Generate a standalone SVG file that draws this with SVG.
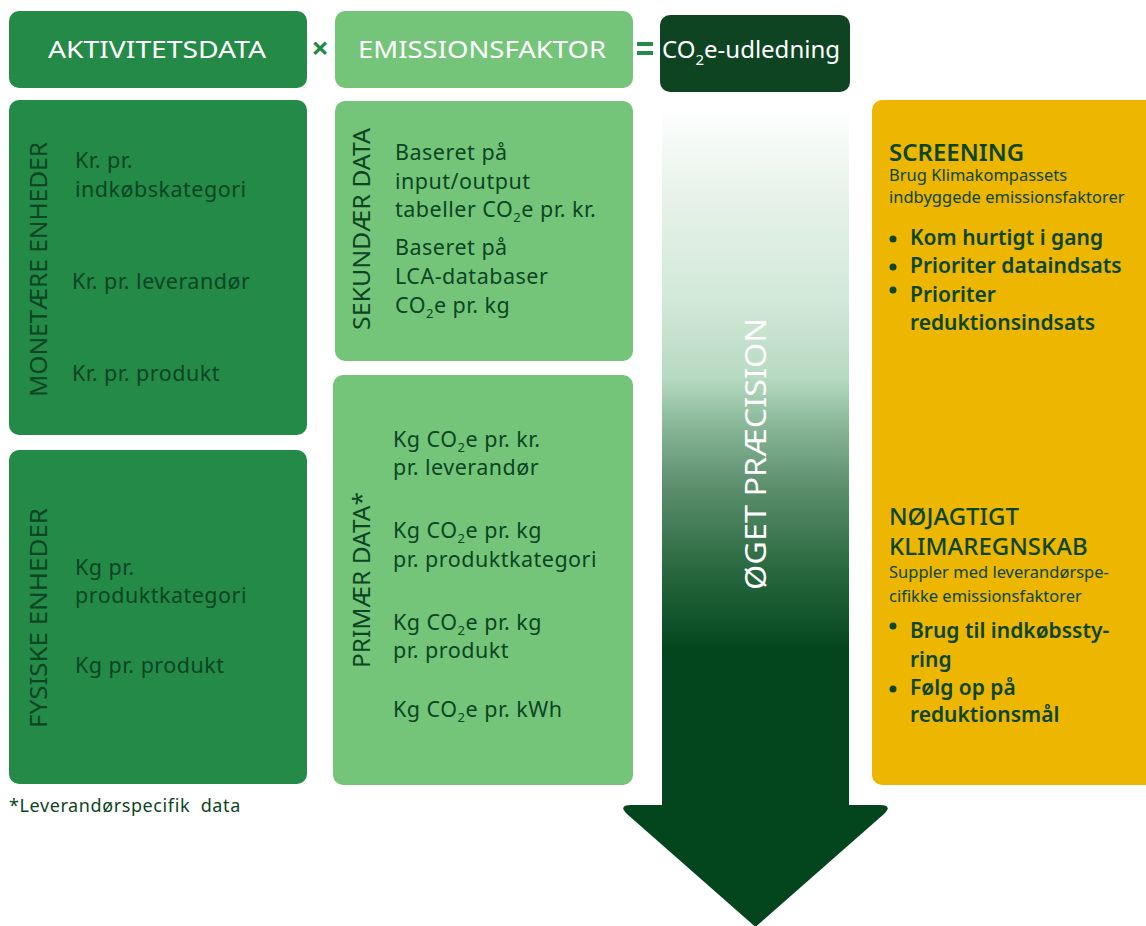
<svg xmlns="http://www.w3.org/2000/svg" width="1146" height="926" viewBox="0 0 1146 926">
  <defs>
    <linearGradient id="prec" gradientUnits="userSpaceOnUse" x1="0" y1="105" x2="0" y2="650">
      <stop offset="0" stop-color="#FFFFFF"/>
      <stop offset="0.17" stop-color="#E7F2EA"/>
      <stop offset="0.36" stop-color="#D2E8D8"/>
      <stop offset="0.50" stop-color="#B7DAC2"/>
      <stop offset="0.58" stop-color="#8CBA9B"/>
      <stop offset="0.70" stop-color="#5C8F6D"/>
      <stop offset="0.85" stop-color="#2A6940"/>
      <stop offset="1" stop-color="#03461E"/>
    </linearGradient>
    <style>
      text { font-family: "Noto Sans", "Liberation Sans", sans-serif; }
      .hdr { fill: #FFFFFF; font-size: 24px; text-anchor: middle; }
      .dk { fill: #0B4523; }
      .body { font-size: 21.5px; font-weight: 400; letter-spacing: 0.5px; }
      .vert { font-size: 23px; text-anchor: middle; }
      .ttl { font-size: 24px; }
      .sub { font-size: 16.5px; }
      .bul { font-size: 21px; font-weight: 600; }
      .op { fill: #248A47; font-weight: 700; text-anchor: middle; }
    </style>
  </defs>

  <!-- header row -->
  <g id="aktivitetsdata">
    <rect x="9" y="11" width="298" height="77" rx="10" fill="#248A47"/>
    <text class="hdr" x="157" y="58" textLength="218" lengthAdjust="spacingAndGlyphs">AKTIVITETSDATA</text>
  </g>
  <g id="times">
    <text class="op" x="320" y="59" font-size="31">×</text>
  </g>
  <g id="emissionsfaktor">
    <rect x="335" y="11" width="298" height="77" rx="10" fill="#74C579"/>
    <text class="hdr" x="482" y="58" textLength="248" lengthAdjust="spacingAndGlyphs">EMISSIONSFAKTOR</text>
  </g>
  <g id="equals">
    <rect x="637" y="42" width="16" height="4" fill="#248A47"/>
    <rect x="637" y="51" width="16" height="4" fill="#248A47"/>
  </g>
  <g id="co2e-udledning">
    <rect x="660" y="15" width="190" height="77" rx="10" fill="#0F4423"/>
    <text class="hdr" x="662" y="58" style="text-anchor:start">CO<tspan font-size="15" dy="7">2</tspan><tspan dy="-7">e-udledning</tspan></text>
  </g>

  <!-- left column -->
  <g id="monetaere-enheder">
    <rect x="9" y="100" width="298" height="335" rx="10" fill="#248A47"/>
    <text class="dk vert" transform="translate(47,269.5) rotate(-90)" textLength="255" lengthAdjust="spacingAndGlyphs">MONETÆRE ENHEDER</text>
    <text class="dk body" x="75" y="168">Kr. pr.</text>
    <text class="dk body" x="75" y="197">indkøbskategori</text>
    <text class="dk body" x="72" y="289">Kr. pr. leverandør</text>
    <text class="dk body" x="72" y="381">Kr. pr. produkt</text>
  </g>
  <g id="fysiske-enheder">
    <rect x="9" y="450" width="298" height="334" rx="10" fill="#248A47"/>
    <text class="dk vert" transform="translate(47,618) rotate(-90)" textLength="220" lengthAdjust="spacingAndGlyphs">FYSISKE ENHEDER</text>
    <text class="dk body" x="75" y="575">Kg pr.</text>
    <text class="dk body" x="75" y="603">produktkategori</text>
    <text class="dk body" x="75" y="673">Kg pr. produkt</text>
  </g>
  <g id="footnote">
    <text class="dk" x="9" y="812" font-size="18" letter-spacing="0.6">*Leverandørspecifik&#160; data</text>
  </g>

  <!-- middle column -->
  <g id="sekundaer-data">
    <rect x="335" y="101" width="298" height="260" rx="10" fill="#74C579"/>
    <text class="dk vert" transform="translate(370,229) rotate(-90)" textLength="202" lengthAdjust="spacingAndGlyphs">SEKUNDÆR DATA</text>
    <text class="dk body" x="395" y="160">Baseret på</text>
    <text class="dk body" x="395" y="189">input/output</text>
    <text class="dk body" x="395" y="217">tabeller CO<tspan font-size="13" dy="5">2</tspan><tspan dy="-5">e pr. kr.</tspan></text>
    <text class="dk body" x="395" y="255">Baseret på</text>
    <text class="dk body" x="395" y="284">LCA-databaser</text>
    <text class="dk body" x="395" y="313">CO<tspan font-size="13" dy="5">2</tspan><tspan dy="-5">e pr. kg</tspan></text>
  </g>
  <g id="primaer-data">
    <rect x="333" y="375" width="300" height="410" rx="10" fill="#74C579"/>
    <text class="dk vert" transform="translate(370,580) rotate(-90)" textLength="176" lengthAdjust="spacingAndGlyphs">PRIMÆR DATA*</text>
    <text class="dk body" x="393" y="447">Kg CO<tspan font-size="13" dy="5">2</tspan><tspan dy="-5">e pr. kr.</tspan></text>
    <text class="dk body" x="393" y="475">pr. leverandør</text>
    <text class="dk body" x="393" y="538">Kg CO<tspan font-size="13" dy="5">2</tspan><tspan dy="-5">e pr. kg</tspan></text>
    <text class="dk body" x="393" y="567">pr. produktkategori</text>
    <text class="dk body" x="393" y="630">Kg CO<tspan font-size="13" dy="5">2</tspan><tspan dy="-5">e pr. kg</tspan></text>
    <text class="dk body" x="393" y="658">pr. produkt</text>
    <text class="dk body" x="393" y="717">Kg CO<tspan font-size="13" dy="5">2</tspan><tspan dy="-5">e pr. kWh</tspan></text>
  </g>

  <!-- precision arrow -->
  <g id="oget-praecision">
    <rect x="662" y="105" width="187" height="702" fill="url(#prec)"/>
    <path d="M631,805 H880 Q893,805 884,814 L755.5,927 L627,814 Q618,805 631,805 Z" fill="#03461E"/>
    <text transform="translate(766,454) rotate(-90)" fill="#FFFFFF" font-size="29" text-anchor="middle" textLength="272" lengthAdjust="spacingAndGlyphs">ØGET PRÆCISION</text>
  </g>

  <!-- right column -->
  <g id="anvendelse">
    <rect x="872" y="100" width="290" height="685" rx="10" fill="#EDB600"/>
    <text class="dk ttl" x="889" y="161" font-weight="600">SCREENING</text>
    <text class="dk sub" x="889" y="181">Brug Klimakompassets</text>
    <text class="dk sub" x="889" y="203">indbyggede emissionsfaktorer</text>
    <circle class="dk" cx="893" cy="239" r="3.5"/>
    <text class="dk bul" x="910" y="245">Kom hurtigt i gang</text>
    <circle class="dk" cx="893" cy="267" r="3.5"/>
    <text class="dk bul" x="910" y="273">Prioriter dataindsats</text>
    <circle class="dk" cx="893" cy="290" r="3.5"/>
    <text class="dk bul" x="910" y="302">Prioriter</text>
    <text class="dk bul" x="910" y="330">reduktionsindsats</text>

    <text class="dk ttl" x="889" y="525" font-weight="500">NØJAGTIGT</text>
    <text class="dk ttl" x="889" y="555" font-weight="500">KLIMAREGNSKAB</text>
    <text class="dk sub" x="889" y="578">Suppler med leverandørspe-</text>
    <text class="dk sub" x="889" y="602">cifikke emissionsfaktorer</text>
    <circle class="dk" cx="893" cy="626" r="3.5"/>
    <text class="dk bul" x="910" y="638">Brug til indkøbssty-</text>
    <text class="dk bul" x="910" y="667">ring</text>
    <circle class="dk" cx="893" cy="689" r="3.5"/>
    <text class="dk bul" x="910" y="695">Følg op på</text>
    <text class="dk bul" x="910" y="722">reduktionsmål</text>
  </g>

  <g id="connectors"/>
</svg>
